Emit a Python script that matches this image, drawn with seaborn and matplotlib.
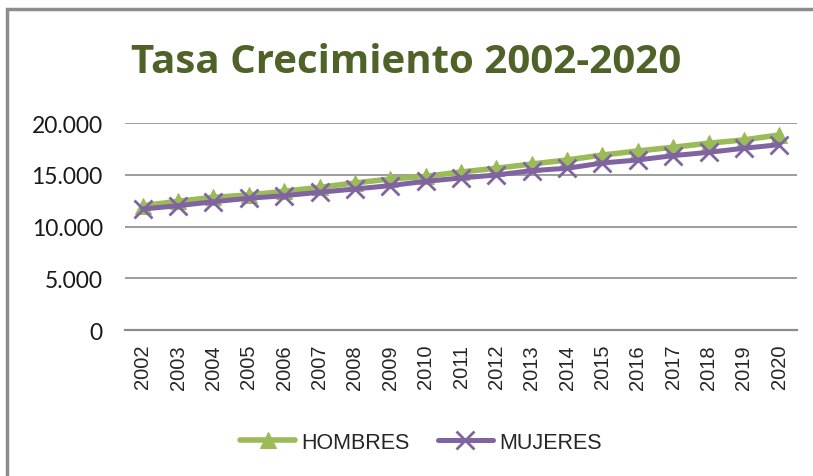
import numpy as np
import pandas as pd
import matplotlib.pyplot as plt
import seaborn as sns
from matplotlib.patches import Rectangle

years = [str(y) for y in range(2002, 2021)]
hombres = [12010, 12440, 12820, 13050, 13400, 13790, 14210, 14590, 14850, 15270,
           15630, 16040, 16430, 16910, 17300, 17660, 18050, 18370, 18850]
mujeres = [11690, 12010, 12400, 12730, 12980, 13310, 13630, 13950, 14370, 14690,
           14980, 15400, 15630, 16140, 16430, 16850, 17170, 17560, 17910]
yticks = [0, 5000, 10000, 15000, 20000]
ylabels = ['0', '5.000', '10.000', '15.000', '20.000']

df = pd.DataFrame({'anio': years, 'HOMBRES': hombres, 'MUJERES': mujeres})

sns.set_style('white')
plt.rcParams['font.family'] = ['Liberation Sans', 'DejaVu Sans']

fig = plt.figure(figsize=(8.13, 4.77), dpi=100)
ax = fig.add_axes([0.1538, 0.306, 0.8265, 0.434])

sns.lineplot(ax=ax, x='anio', y='HOMBRES', data=df, color='#9BBB59', linewidth=4,
             marker='^', markersize=12, markeredgecolor='#9BBB59', label='HOMBRES', sort=False)
sns.lineplot(ax=ax, x='anio', y='MUJERES', data=df, color='#8064A2', linewidth=3.6,
             marker='x', markersize=13, markeredgewidth=2, markeredgecolor='#8064A2',
             label='MUJERES', sort=False)

ax.set_xlim(-0.5, len(years) - 0.5)
ax.set_ylim(0, 20000)
ax.set_yticks(yticks)
ax.set_yticklabels(ylabels, fontsize=16.5, color='#1a1a1a', family=['Lato', 'DejaVu Sans'])
ax.tick_params(axis='y', length=0, pad=16)
ax.tick_params(axis='x', length=0, pad=10, labelrotation=90, labelsize=14.5)
ax.grid(axis='y', color='#8c8c8c', linewidth=1.2)
ax.set_axisbelow(True)
for s in ['top', 'right', 'left']:
    ax.spines[s].set_visible(False)
ax.spines['bottom'].set_color('#8c8c8c')
ax.spines['bottom'].set_linewidth(1.6)
ax.set_xlabel('')
ax.set_ylabel('')

fig.text(0.5, 0.869, 'Tasa Crecimiento 2002-2020', ha='center', va='center',
         fontsize=29, fontweight='bold', color='#4F6228', family=['Open Sans', 'DejaVu Sans'])

leg = ax.legend(loc='center', bbox_to_anchor=(0.518, 0.071), bbox_transform=fig.transFigure,
                ncol=2, frameon=False, fontsize=15.5, handlelength=2.55, columnspacing=1.3,
                handletextpad=0.3)

fig.patches.append(Rectangle((7 / 813, -0.05), 1.1, 1 - 10 / 477 + 0.05, transform=fig.transFigure,
                             fill=False, edgecolor='#8c8c8c', linewidth=2.5))

plt.savefig('out.png', dpi=100)
